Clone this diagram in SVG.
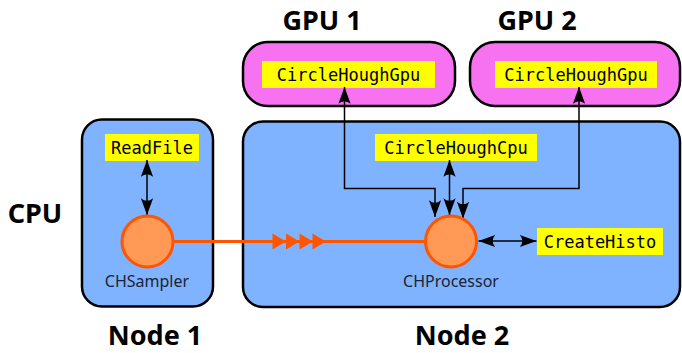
<svg xmlns="http://www.w3.org/2000/svg" width="682" height="353" viewBox="0 0 682 353">
<style>
.node{fill:#80b3ff;stroke:#000;stroke-width:2.5}
.gpu{fill:#f672f0;stroke:#000;stroke-width:2.5}
.lbl{fill:#ffff00}
.mono{font-family:"DejaVu Sans Mono",monospace;font-size:17px;fill:#000}
.title{font-family:"Noto Sans",sans-serif;font-weight:bold;font-size:27px;fill:#000;text-anchor:middle}
.proc{fill:#ff9955;stroke:#ff5500;stroke-width:3}
.pname{font-family:"Noto Sans",sans-serif;font-size:16px;fill:#1c2233;text-anchor:middle}
.conn{fill:none;stroke:#000;stroke-width:1.5}
.orange{fill:none;stroke:#ff5500;stroke-width:3}
.tri{fill:#ff5500}
</style>
<defs>
<marker id="ah" markerUnits="userSpaceOnUse" markerWidth="20" markerHeight="20" viewBox="-16 -8 18 16" refX="0" refY="0" orient="auto-start-reverse">
<path d="M0,0 L-15,-5.5 Q-10.5,0 -15,5.5 Z" fill="#000"/>
</marker>
</defs>
<text class="title" x="322" y="30">GPU 1</text>
<text class="title" x="537" y="30">GPU 2</text>
<text class="title" x="35" y="223">CPU</text>
<text class="title" x="155" y="345">Node 1</text>
<text class="title" x="462" y="345">Node 2</text>
<g id="node1">
<rect class="node" x="82" y="119.5" width="131" height="187" rx="20"/>
</g>
<g id="node2">
<rect class="node" x="243" y="121.5" width="437" height="185.5" rx="20"/>
</g>
<g id="gpu1">
<rect class="gpu" x="243" y="42" width="212" height="64" rx="25"/>
<rect class="lbl" x="262" y="61" width="173" height="27"/>
<text class="mono" x="348.5" y="81" text-anchor="middle">CircleHoughGpu</text>
</g>
<g id="gpu2">
<rect class="gpu" x="470" y="42" width="210" height="64" rx="25"/>
<rect class="lbl" x="495" y="61" width="162" height="27"/>
<text class="mono" x="576" y="81" text-anchor="middle">CircleHoughGpu</text>
</g>
<g id="readfile">
<rect class="lbl" x="105" y="134" width="94" height="27"/>
<text class="mono" x="152" y="154" text-anchor="middle">ReadFile</text>
</g>
<g id="circlehoughcpu">
<rect class="lbl" x="375" y="134" width="162" height="27"/>
<text class="mono" x="456" y="154" text-anchor="middle">CircleHoughCpu</text>
</g>
<g id="createhisto">
<rect class="lbl" x="537" y="228" width="126" height="27"/>
<text class="mono" x="600" y="248" text-anchor="middle">CreateHisto</text>
</g>
<g id="connectors">
<path class="orange" d="M173,241.5 L425,241.5"/>
<path class="tri" d="M272.5,233.5 L286,241.5 L272.5,249.5 Z M286,233.5 L299.5,241.5 L286,249.5 Z M299.5,233.5 L313,241.5 L299.5,249.5 Z M312.5,233.5 L326,241.5 L312.5,249.5 Z"/>
<path class="conn" d="M147,160 L147,215" marker-start="url(#ah)" marker-end="url(#ah)"/>
<path class="conn" d="M449.5,160 L449.5,215" marker-start="url(#ah)" marker-end="url(#ah)"/>
<path class="conn" d="M344.5,87 L344.5,188.5 L435,188.5 L435,217" marker-start="url(#ah)" marker-end="url(#ah)"/>
<path class="conn" d="M579,87 L579,188.5 L463,188.5 L463,218.5" marker-start="url(#ah)" marker-end="url(#ah)"/>
<path class="conn" d="M478.5,241 L536.5,241" marker-start="url(#ah)" marker-end="url(#ah)"/>
</g>
<g id="chsampler">
<circle class="proc" cx="147.5" cy="241.5" r="25.5"/>
<text class="pname" x="147" y="287">CHSampler</text>
</g>
<g id="chprocessor">
<circle class="proc" cx="451" cy="241.5" r="25.5"/>
<text class="pname" x="451" y="287">CHProcessor</text>
</g>
</svg>
